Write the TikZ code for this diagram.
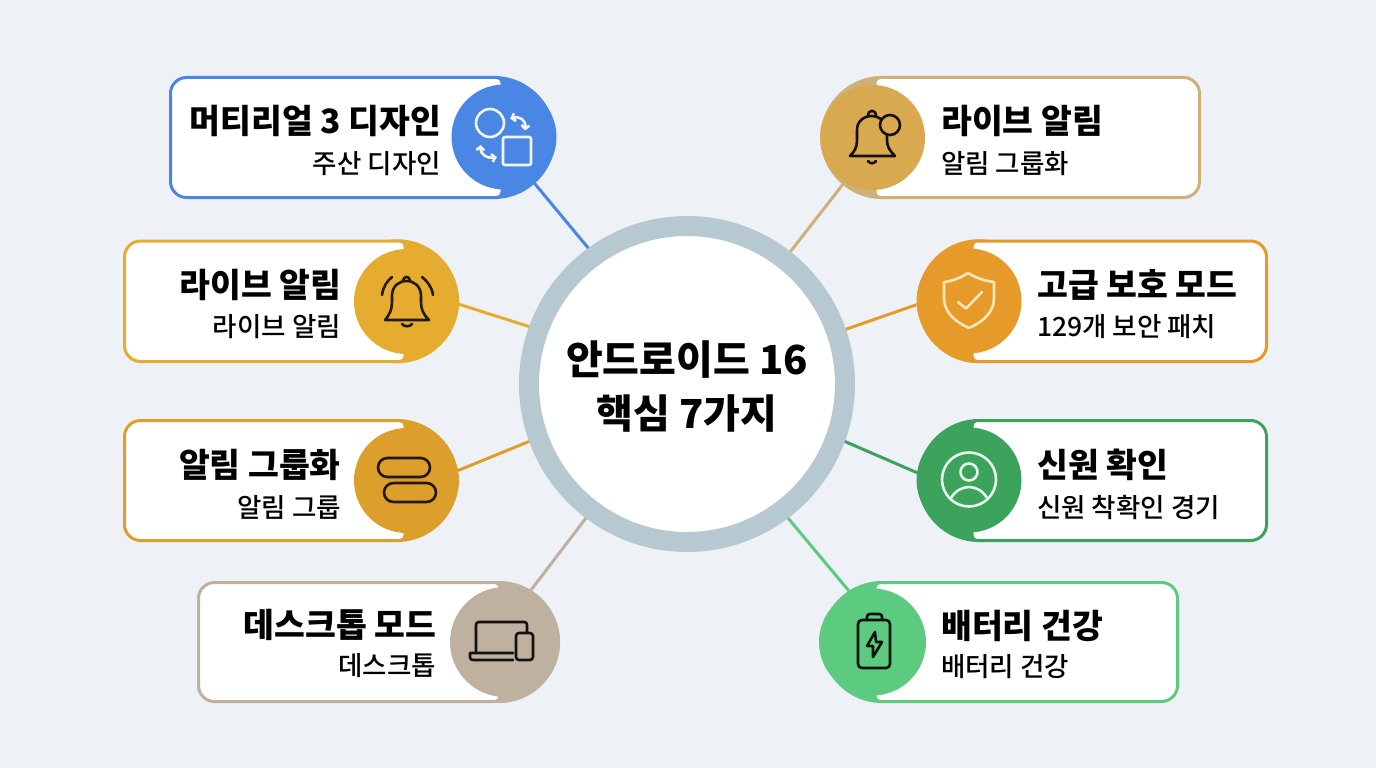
\documentclass[tikz,border=0pt]{standalone}
\usepackage{fontspec}
\setmainfont{Noto Sans CJK KR}
\newfontfamily\subfont{Noto Sans CJK KR Medium}
\usetikzlibrary{arrows.meta}
\definecolor{bgc}{HTML}{EEF1F6}
\definecolor{hubc}{HTML}{B6C8D0}
\definecolor{ca}{HTML}{4A86E4}
\definecolor{cb}{HTML}{E6AC30}
\definecolor{cc}{HTML}{DD9F2C}
\definecolor{cd}{HTML}{BEB1A0}
\definecolor{ce}{HTML}{D9A950}
\definecolor{cel}{HTML}{CDB07A}
\definecolor{cf}{HTML}{E59A2A}
\definecolor{cg}{HTML}{3BA35C}
\definecolor{ch}{HTML}{5CCB80}
\definecolor{shieldc}{HTML}{FFE6B8}
\tikzset{
  cardline/.style={line width=3pt,fill=white},
  iconcirc/.style={circle,inner sep=0pt,minimum size=105pt,outer sep=0pt},
  headl/.style={inner sep=0pt,font=\fontsize{33.5}{36}\selectfont\bfseries,text=black},
  subl/.style={inner sep=0pt,font=\fontsize{26.5}{29}\subfont,text=black},
  glyph/.style={line width=2.6pt,line join=round,line cap=round},
  link/.style={line width=3pt},
  twohead/.style={{Straight Barb[length=3.5pt,width=8pt]}-{Straight Barb[length=3.5pt,width=8pt]}},
}
% colour, l, r, t, b, disc x, disc radius
\newcommand{\cardframe}[7]{%
  \fill[#1] (#6,{(#4+#5)/2}) circle[radius=#7];
  \draw[cardline,draw=#1] ({(#2+#3)/2},#4) [rounded corners=16pt] -- (#2,#4) -- (#2,#5) [rounded corners=5pt] -- (#3,#5) -- (#3,#4) -- cycle;
}
\begin{document}
\begin{tikzpicture}[x=1pt,y=-1pt]
\useasboundingbox (0,0) rectangle (1376,768);
\fill[bgc] (0,0) rectangle (1376,768);

% cards
\cardframe{ca}{170.5}{502}{77.5}{197.5}{494}{61.5}
\cardframe{cb}{124.5}{405}{241}{361.5}{397}{62}
\cardframe{cc}{124.5}{405}{420.5}{540.5}{397}{61.5}
\cardframe{cd}{198.5}{500}{582.5}{701.5}{499}{61}
\cardframe{cel}{1199.5}{875}{77.5}{197.5}{882}{61.5}
\cardframe{cf}{1266.5}{972}{241}{361.5}{979}{62}
\cardframe{cg}{1266.5}{972}{420.5}{540.5}{979}{61.5}
\cardframe{ch}{1177.5}{875}{582.5}{701.5}{882}{61}

% icon discs
\node[iconcirc,fill=ca] (i1) at (504,137) {};
\node[iconcirc,fill=cb] (i2) at (406.5,301.5) {};
\node[iconcirc,fill=cc] (i3) at (406.5,480.5) {};
\node[iconcirc,fill=cd,minimum size=110pt] (i4) at (505,642) {};
\node[iconcirc,fill=ce] (i5) at (872.5,137.5) {};
\node[iconcirc,fill=cf] (i6) at (969,301) {};
\node[iconcirc,fill=cg] (i7) at (969,480) {};
\node[iconcirc,fill=ch,minimum size=107pt] (i8) at (872.5,642) {};

% hub
\node[circle,draw=hubc,fill=white,line width=20pt,minimum size=316pt,inner sep=0pt,align=center] (hub) at (687,384) {};
\node[inner sep=0pt,align=center,font=\fontsize{40}{54}\selectfont\bfseries] (title) at (687,386) {안드로이드 16\\핵심 7가지};

% connectors
\draw[link,draw=ca] (hub.126.5) -- (i1.-57);
\draw[link,draw=cb] (hub.160.3) -- (i2.-3.6);
\draw[link,draw=cc] (hub.200.4) -- (i3.11.3);
\draw[link,draw=cd] (hub.233.3) -- (i4.64);
\draw[link,draw=cel] (hub.52.9) -- (i5.238.4);
\draw[link,draw=cf] (hub.19.6) -- (i6.184);
\draw[link,draw=cg] (hub.-20.4) -- (i7.172);
\draw[link,draw=ch] (hub.-53) -- (i8.114);

% labels
\node[headl,anchor=east] (h1) at (441.5,121) {머티리얼 3 디자인};
\node[subl,anchor=east] (s1) at (441,164) {주산 디자인};
\node[headl,anchor=east] (h2) at (341.5,285) {라이브 알림};
\node[subl,anchor=east] (s2) at (341,327) {라이브 알림};
\node[headl,anchor=east] (h3) at (341,465) {알림 그룹화};
\node[subl,anchor=east] (s3) at (341,507) {알림 그룹};
\node[headl,anchor=east] (h4) at (436.5,625) {데스크톱 모드};
\node[subl,anchor=east] (s4) at (436,666) {데스크톱};
\node[headl,anchor=west] (h5) at (941,121) {라이브 알림};
\node[subl,anchor=west] (s5) at (941,164) {알림 그룹화};
\node[headl,anchor=west] (h6) at (1037,285) {고급 보호 모드};
\node[subl,anchor=west] (s6) at (1037,327) {129개 보안 패치};
\node[headl,anchor=west] (h7) at (1037,465) {신원 확인};
\node[subl,anchor=west] (s7) at (1037,507) {신원 착확인 경기};
\node[headl,anchor=west] (h8) at (941,626) {배터리 건강};
\node[subl,anchor=west] (s8) at (941,667) {배터리 건강};

% icon 1: shapes
\begin{scope}[glyph,draw=white!92!ca]
  \draw (490,123) circle[radius=14];
  \draw[rounded corners=2pt] (503,137) rectangle (531,165);
  \draw[twohead] (510,118.5) .. controls (520,116) and (526,120) .. (525,130.5);
  \draw[twohead] (480.5,145) .. controls (480,154) and (487,159) .. (497,157);
\end{scope}

% icon 2: bell with waves
\begin{scope}[glyph,draw=black!85!cb]
  \draw (385,320) -- (429,320) .. controls (423,314) and (421,309) .. (421,302) -- (421,296) .. controls (421,286) and (414,281) .. (406.5,281) .. controls (399,281) and (392,286) .. (392,296) -- (392,302) .. controls (392,309) and (390,314) .. (385,320) -- cycle;
  \draw (403,281) .. controls (403,275.5) and (410,275.5) .. (410,281);
  \draw (402,324) .. controls (404,327) and (410,327) .. (412,324);
  \draw (382,295) .. controls (383,287) and (387,281) .. (392,277);
  \draw (433,295) .. controls (432,287) and (427,281) .. (422,277);
\end{scope}

% icon 3: pills
\begin{scope}[glyph,draw=black!85!cc]
  \draw[rounded corners=9.5pt] (378,458) rectangle (430,477);
  \draw[rounded corners=9.5pt] (384,483) rectangle (436,502);
\end{scope}

% icon 4: laptop and phone
\begin{scope}[glyph,draw=black!90!cd]
  \draw (476,653) -- (476,625) .. controls (476,623) and (477,622) .. (479,622) -- (524,622) .. controls (526,622) and (527,623) .. (527,625) -- (527,632);
  \draw (513,653) -- (470,653) -- (470,657) .. controls (470,659) and (471,660) .. (473,660) -- (513,660);
  \draw[rounded corners=3pt] (516,633) rectangle (533,660);
\end{scope}

% icon 5: bell with dot
\begin{scope}[glyph,draw=black!90!ce]
  \draw (850,156) -- (895,156) .. controls (890,151) and (887,147) .. (887,140) -- (887,135);
  \draw (850,156) .. controls (855,151) and (857,147) .. (857,140) -- (857,130) .. controls (857,121) and (864,116) .. (872,116) .. controls (875,116) and (878,117) .. (881,119);
  \draw (868,116) .. controls (868,109) and (876,109) .. (876,116);
  \draw (868,161) .. controls (870,164) and (874,164) .. (876,161);
  \draw (890,125) circle[radius=10];
\end{scope}

% icon 6: shield
\begin{scope}[glyph,draw=shieldc]
  \draw (968,273) .. controls (976,278) and (985,281) .. (994,282) -- (994,298) .. controls (994,312) and (983,322) .. (969,328) .. controls (955,322) and (944,312) .. (944,298) -- (944,282) .. controls (953,281) and (960,278) .. (968,273) -- cycle;
  \draw (958,302) -- (966,308.5) -- (982,292);
\end{scope}

% icon 7: person
\begin{scope}[glyph,draw=white!88!cg]
  \draw (969,479.5) circle[radius=27];
  \draw (969,472) circle[radius=8.5];
  \draw (951,498) .. controls (955,491) and (962,487) .. (969,487) .. controls (976,487) and (983,491) .. (987,498);
\end{scope}

% icon 8: battery
\begin{scope}[glyph,draw=black!90!ch]
  \draw[rounded corners=4pt] (858,620) rectangle (890,668);
  \draw (867,620) -- (867,617) .. controls (867,615) and (868,614) .. (870,614) -- (879,614) .. controls (881,614) and (882,615) .. (882,617) -- (882,620);
  \draw (875,632) -- (867,646) -- (873,646) -- (873,657) -- (882,642) -- (876,642) -- cycle;
\end{scope}
\end{tikzpicture}
\end{document}
